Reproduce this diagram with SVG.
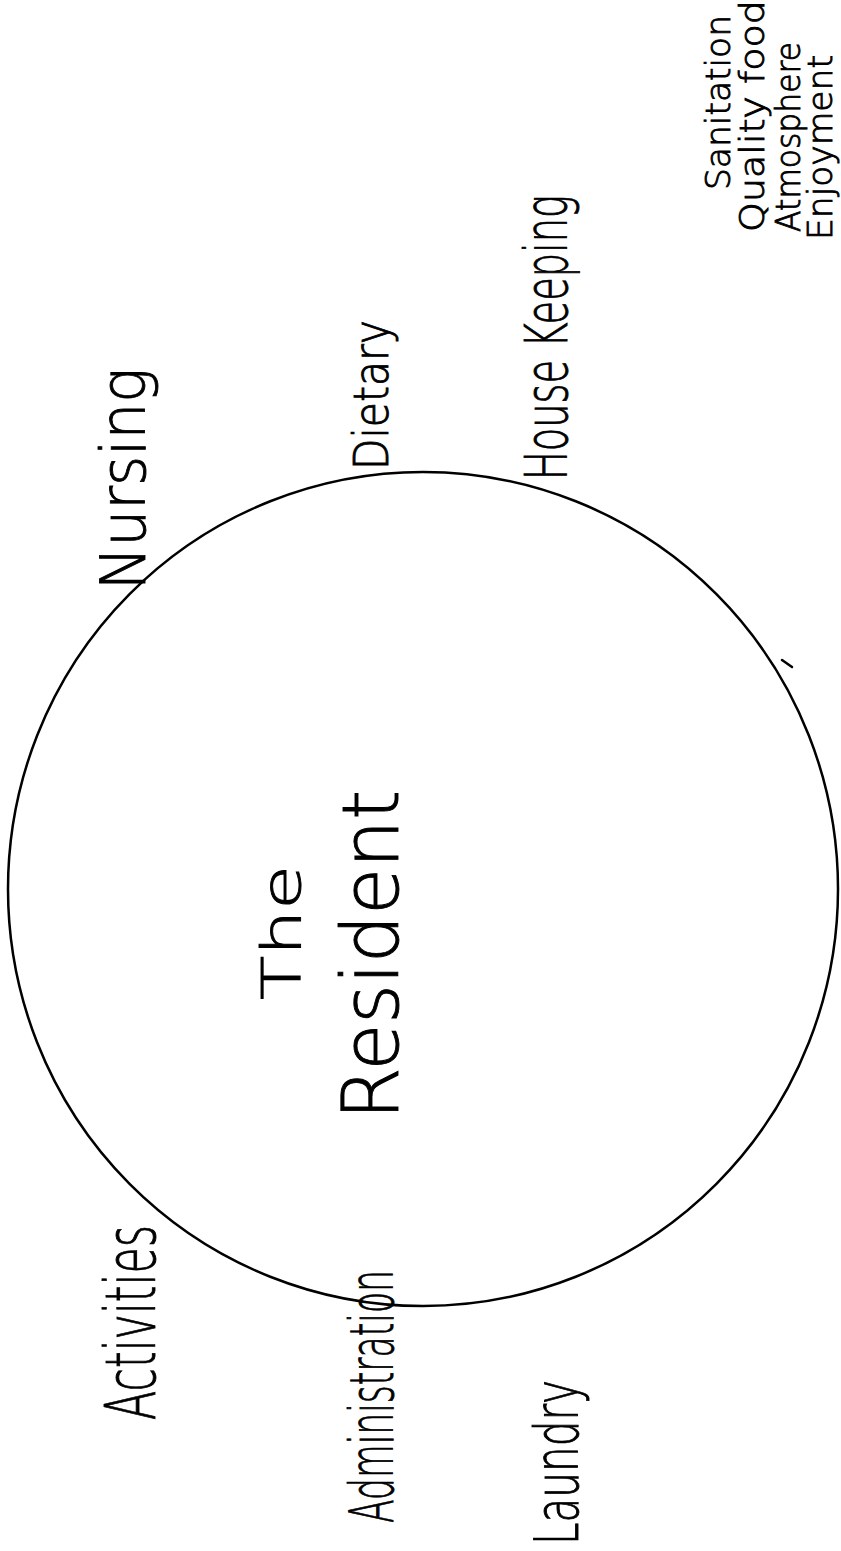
<svg xmlns="http://www.w3.org/2000/svg" width="841" height="1551" viewBox="0 0 841 1551">
<style>
  .lbl { font-family: "DejaVu Sans", "Liberation Sans", Arial, sans-serif; font-weight: 200; fill: #000; stroke: #000; stroke-width: 0.9; }
  .ink { fill: none; stroke: #000; stroke-width: 2.5; stroke-linecap: round; }
</style>
<rect width="841" height="1551" fill="#fff"/>
<g id="resident-circle">
  <ellipse class="ink" cx="423" cy="889" rx="415" ry="417"/>
  <line class="ink" x1="782" y1="660" x2="792" y2="667" stroke-width="1.5"/>
  <text class="lbl" transform="translate(300,1000) rotate(-90)" font-size="54" textLength="135" lengthAdjust="spacingAndGlyphs">The</text>
  <text class="lbl" transform="translate(398,1120) rotate(-90)" font-size="78" textLength="330" lengthAdjust="spacingAndGlyphs">Resident</text>
</g>
<g id="nursing">
  <text class="lbl" transform="translate(145,590) rotate(-90)" font-size="62" textLength="222" lengthAdjust="spacingAndGlyphs">Nursing</text>
</g>
<g id="dietary">
  <text class="lbl" transform="translate(388,470) rotate(-90)" font-size="48" textLength="150" lengthAdjust="spacingAndGlyphs">Dietary</text>
</g>
<g id="housekeeping">
  <text class="lbl" transform="translate(567,480) rotate(-90)" font-size="58" textLength="285" lengthAdjust="spacingAndGlyphs">House Keeping</text>
</g>
<g id="dietary-notes">
  <text class="lbl" transform="translate(730,190) rotate(-90)" font-size="34" textLength="175" lengthAdjust="spacingAndGlyphs">Sanitation</text>
  <text class="lbl" transform="translate(764,232) rotate(-90)" font-size="34" textLength="232" lengthAdjust="spacingAndGlyphs">Quality food</text>
  <text class="lbl" transform="translate(800,232) rotate(-90)" font-size="34" textLength="190" lengthAdjust="spacingAndGlyphs">Atmosphere</text>
  <text class="lbl" transform="translate(832,240) rotate(-90)" font-size="34" textLength="185" lengthAdjust="spacingAndGlyphs">Enjoyment</text>
</g>
<g id="activities">
  <text class="lbl" transform="translate(155,1420) rotate(-90)" font-size="70" textLength="195" lengthAdjust="spacingAndGlyphs">Activities</text>
</g>
<g id="administration">
  <text class="lbl" transform="translate(393,1523) rotate(-90)" font-size="60" textLength="253" lengthAdjust="spacingAndGlyphs">Administration</text>
</g>
<g id="laundry">
  <text class="lbl" transform="translate(578,1545) rotate(-90)" font-size="60" textLength="165" lengthAdjust="spacingAndGlyphs">Laundry</text>
</g>
<g id="connectors"></g>
</svg>
